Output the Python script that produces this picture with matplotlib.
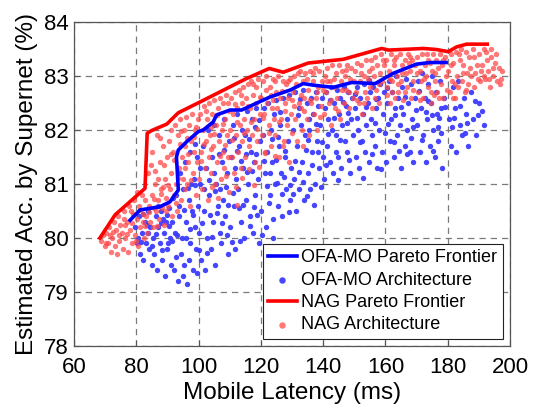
import matplotlib
matplotlib.use('Agg')
import matplotlib.pyplot as plt
import numpy as np

plt.rcParams['font.family'] = ['Liberation Sans', 'DejaVu Sans']

# Pareto frontiers (latency ms, accuracy %)
ofa_front_x = [78.0, 81.2, 87.6, 90.8, 93.5, 92.9, 93.5, 96.1, 99.9, 101.5, 104.7, 105.8, 110.1, 113.8,
               122.9, 129.4, 133.6, 136.9, 143.3, 149.2, 156.7, 162.5, 170.0, 174.3, 179.5]
ofa_front_y = [80.33, 80.52, 80.58, 80.67, 80.89, 81.50, 81.63, 81.78, 81.97, 82.00, 82.15, 82.28, 82.37, 82.37,
               82.61, 82.74, 82.86, 82.83, 82.79, 82.88, 82.86, 83.05, 83.22, 83.25, 83.25]

nag_front_x = [68.3, 73.2, 82.8, 83.5, 84.9, 89.8, 93.5, 100.5, 114.9, 122.7, 127.2, 135.2, 146.5,
               158.8, 161.0, 172.2, 176.5, 180.2, 182.9, 186.1, 192.7]
nag_front_y = [80.00, 80.43, 80.92, 81.94, 81.99, 82.11, 82.32, 82.52, 82.94, 83.14, 83.07, 83.24, 83.31,
               83.51, 83.48, 83.51, 83.49, 83.45, 83.54, 83.59, 83.59]

# sampled architectures (latency, accuracy)
ofa_arch = np.array([
    (79.5, 80.2), (80.1, 79.9), (80.8, 80.4), (81.2, 79.7), (81.9, 80.1), (82.3, 79.6), (82.7, 80.3), (83.1, 79.9),
    (83.6, 80.5), (84.0, 79.8), (84.4, 80.2), (84.9, 79.5), (80.6, 80.0), (82.0, 80.45), (83.9, 80.1),
    (85.3, 80.0), (85.8, 79.7), (86.2, 80.4), (86.6, 79.4), (87.1, 80.2), (87.5, 79.9), (88.0, 80.5), (88.3, 79.6),
    (88.8, 80.1), (89.2, 79.3), (89.6, 80.3), (90.0, 79.8), (90.4, 80.55), (90.8, 80.0), (91.2, 79.5), (91.6, 80.3),
    (86.9, 80.6), (88.6, 80.35), (90.2, 79.9), (91.9, 80.75),
    (92.2, 79.4), (92.5, 80.1), (92.9, 80.8), (93.3, 79.2), (93.6, 80.4), (94.0, 81.2), (94.3, 79.7), (94.7, 80.0),
    (95.0, 80.9), (95.4, 79.5), (95.7, 81.4), (96.1, 80.3), (96.4, 79.15), (96.8, 80.7), (97.1, 81.6), (97.4, 79.9),
    (97.8, 80.5), (98.1, 79.4), (98.5, 81.1), (98.8, 80.2), (99.2, 79.8), (99.5, 81.5), (99.8, 80.6), (93.8, 80.6),
    (95.9, 80.0), (97.6, 81.0), (94.9, 79.3), (96.9, 79.6), (98.9, 81.75), (99.6, 79.35),
    (100.2, 80.1), (100.6, 81.0), (100.9, 79.6), (101.3, 81.7), (101.7, 80.5), (102.0, 79.4), (102.4, 81.3),
    (102.8, 80.0), (103.1, 82.0), (103.5, 80.8), (103.9, 79.8), (104.2, 81.5), (104.6, 80.3), (105.0, 82.1),
    (105.3, 79.5), (105.7, 81.0), (106.1, 80.6), (106.4, 81.9), (106.8, 80.1), (107.2, 79.9), (107.5, 81.4),
    (107.9, 80.7), (108.3, 82.2), (108.6, 80.4), (109.0, 81.2), (109.4, 79.7), (109.7, 81.8), (101.9, 80.9),
    (104.8, 81.2), (107.0, 80.9),
    (110.2, 80.2), (110.5, 81.5), (110.9, 82.1), (111.3, 80.6), (111.6, 79.8), (112.0, 81.1), (112.4, 82.3),
    (112.7, 80.9), (113.1, 81.7), (113.5, 80.3), (113.8, 82.0), (114.2, 81.3), (114.6, 80.0), (114.9, 81.9),
    (115.3, 80.7), (115.7, 82.35), (116.0, 81.0), (116.4, 80.4), (116.8, 81.6), (117.1, 82.2), (117.5, 80.1),
    (117.9, 81.4), (118.2, 80.8), (118.6, 82.4), (119.0, 81.1), (119.3, 79.9), (119.7, 81.8), (111.8, 81.3),
    (115.1, 81.55), (118.0, 82.05),
    (120.2, 80.5), (120.6, 81.9), (120.9, 82.4), (121.3, 81.2), (121.7, 80.2), (122.0, 81.6), (122.4, 82.5),
    (122.8, 80.8), (123.2, 82.0), (123.5, 81.4), (123.9, 80.0), (124.3, 82.3), (124.6, 81.0), (125.0, 82.55),
    (125.4, 80.6), (125.8, 81.7), (126.1, 82.1), (126.5, 81.2), (126.9, 80.4), (127.2, 82.6), (127.6, 81.5),
    (128.0, 80.9), (128.3, 82.2), (128.7, 81.8), (129.1, 82.65), (129.5, 80.7), (129.8, 81.3), (124.8, 81.45),
    (130.2, 82.0), (130.6, 81.1), (130.9, 82.7), (131.3, 80.5), (131.7, 81.7), (132.1, 82.4), (132.4, 80.9),
    (132.8, 82.1), (133.2, 81.4), (133.6, 82.75), (133.9, 80.7), (134.3, 81.9), (134.7, 82.5), (135.0, 81.2),
    (135.4, 82.2), (135.8, 80.9), (136.1, 82.6), (136.5, 81.6), (136.9, 82.3), (137.3, 81.0), (137.6, 82.7),
    (138.0, 81.8), (138.4, 82.45), (138.8, 81.3), (139.1, 82.1), (139.5, 82.6), (139.8, 81.5), (135.6, 82.0),
    (140.2, 81.1), (140.6, 82.4), (141.0, 82.7), (141.3, 81.7), (141.7, 82.2), (142.1, 81.4), (142.5, 82.8),
    (142.8, 82.0), (143.2, 81.2), (143.6, 82.5), (144.0, 81.9), (144.3, 82.75), (144.7, 81.5), (145.1, 82.3),
    (145.5, 82.6), (145.8, 81.3), (146.2, 82.1), (146.6, 82.8), (147.0, 81.8), (147.3, 82.45), (147.7, 81.6),
    (148.1, 82.7), (148.5, 81.2), (148.8, 82.2), (149.2, 82.6), (149.6, 81.9),
    (150.1, 82.4), (150.5, 81.5), (150.9, 82.8), (151.2, 82.0), (151.6, 81.3), (152.0, 82.6), (152.4, 81.8),
    (152.8, 82.3), (153.1, 82.85), (153.5, 81.6), (153.9, 82.1), (154.3, 82.5), (154.6, 81.4), (155.0, 82.7),
    (155.4, 82.2), (155.8, 81.9), (156.1, 82.8), (156.5, 81.7), (156.9, 82.4), (157.3, 81.3), (157.6, 82.6),
    (158.0, 82.0), (158.4, 82.85), (158.8, 81.6), (159.2, 82.3), (159.6, 82.7),
    (160.2, 81.4), (160.6, 82.5), (161.0, 82.9), (161.4, 81.8), (161.8, 82.2), (162.2, 82.7), (162.6, 81.5),
    (163.0, 82.4), (163.4, 83.0), (163.8, 81.9), (164.2, 82.6), (164.6, 82.1), (165.0, 81.3), (165.4, 82.8),
    (165.8, 82.3), (166.2, 81.7), (166.6, 82.95), (167.0, 82.0), (167.4, 82.5), (167.8, 81.6), (168.2, 82.85),
    (168.6, 82.2), (169.0, 81.4), (169.4, 82.6),
    (170.2, 82.1), (170.6, 82.9), (171.0, 81.6), (171.4, 82.4), (171.8, 83.05), (172.2, 81.9), (172.6, 82.6),
    (173.0, 81.4), (173.4, 82.2), (173.8, 82.85), (174.2, 81.7), (174.6, 82.5), (175.0, 83.0), (175.4, 82.0),
    (175.8, 81.5), (176.2, 82.7), (176.6, 82.3), (177.0, 81.8), (177.4, 82.9), (177.8, 82.4), (178.3, 81.3),
    (178.8, 82.6),
    (180.4, 82.2), (181.0, 81.7), (181.6, 82.8), (182.2, 82.4), (182.8, 81.6), (183.4, 82.9), (184.0, 82.1),
    (184.6, 81.9), (185.2, 82.6), (185.8, 82.3), (186.6, 81.7), (187.4, 82.7), (188.2, 82.2), (189.0, 81.9),
    (190.2, 82.5), (191.5, 82.1),
    # extra, less regular samples
    (96.7, 80.93), (101.2, 80.27), (103.3, 81.08), (105.9, 80.47), (108.1, 81.63), (109.1, 80.05), (111.0, 80.83),
    (112.2, 81.62), (113.3, 79.95), (114.4, 80.62), (116.3, 81.83), (117.3, 81.24), (118.8, 80.43), (121.0, 81.43),
    (122.6, 80.65), (123.7, 81.83), (125.1, 81.02), (126.3, 82.33), (127.9, 81.62), (129.3, 80.98), (131.0, 81.42),
    (132.6, 82.57), (133.4, 81.03), (134.9, 80.78), (136.3, 81.35), (137.8, 82.12), (139.3, 80.95), (141.6, 81.93),
    (143.4, 82.22), (144.9, 81.08), (146.4, 82.52), (148.3, 81.45), (151.0, 82.22), (152.9, 81.12), (154.8, 82.93),
    (156.7, 82.13), (158.6, 81.28), (160.9, 82.12), (162.8, 81.78), (164.9, 82.42), (166.9, 81.55), (168.9, 82.05),
    (170.9, 82.73), (172.9, 82.33), (175.2, 81.62), (176.9, 82.05), (179.1, 82.43), (181.3, 82.05), (183.9, 82.45),
    (186.1, 82.13), (188.8, 82.53), (191.0, 82.35),
    (98.3, 80.43), (100.4, 81.3), (102.6, 79.72), (104.4, 80.02), (106.6, 81.56), (108.8, 80.95), (110.7, 79.92),
    (112.9, 80.55), (115.4, 81.22), (117.7, 80.58), (119.5, 82.18), (121.9, 80.97), (124.0, 80.35), (126.7, 80.82),
    (128.9, 80.48), (131.9, 82.27), (134.5, 81.63), (137.0, 80.62), (139.7, 81.78), (142.3, 82.55), (145.3, 81.82),
    (147.6, 82.13), (150.3, 82.67), (153.7, 82.43), (157.0, 82.57), (160.4, 82.78), (163.2, 82.27), (166.4, 82.62),
    (169.7, 82.38), (173.6, 82.53), (177.2, 82.22),
    (93.1, 80.05), (95.2, 80.52), (97.3, 80.17), (99.0, 80.98), (100.1, 79.78), (103.7, 80.42), (105.2, 80.88),
    (107.6, 80.27), (109.6, 80.62), (111.5, 81.85), (113.6, 81.42), (116.6, 80.22), (118.4, 81.56), (120.4, 80.05),
    (123.0, 81.2), (125.6, 81.88), (127.4, 81.13), (130.4, 80.82), (132.3, 81.23), (135.2, 81.82), (138.2, 81.6),
    (140.9, 81.35), (144.1, 81.6), (147.9, 82.32), (151.8, 81.78), (155.6, 81.55), (159.9, 81.95), (164.4, 81.62),
    (168.3, 81.85), (171.6, 81.82), (174.9, 82.28), (178.0, 81.95), (182.0, 82.23), (185.6, 81.95), (189.7, 82.27),
    (86.4, 80.08), (88.1, 79.78), (89.9, 80.42), (91.4, 79.95), (83.3, 80.25), (81.6, 79.92), (85.0, 79.85),
    (87.8, 80.28), (90.6, 80.22), (92.7, 79.65),
])

nag_arch = np.array([
    (68.8, 79.95), (69.4, 80.05), (69.9, 79.85), (70.4, 80.1), (70.9, 79.9), (71.3, 80.2), (71.8, 79.75),
    (72.2, 80.0), (72.7, 80.3), (73.1, 79.85), (73.6, 80.15), (74.0, 80.4), (74.5, 79.95), (74.9, 80.25),
    (71.6, 80.05), (73.9, 79.7),
    (75.3, 80.1), (75.7, 79.8), (76.1, 80.5), (76.5, 80.0), (76.9, 80.3), (77.3, 79.75), (77.7, 80.6),
    (78.1, 80.15), (78.5, 79.9), (78.9, 80.45), (79.3, 80.7), (79.7, 80.05), (80.1, 80.35), (80.5, 79.85),
    (80.9, 80.6), (81.3, 80.2), (81.7, 80.8), (82.1, 80.45), (82.5, 80.0), (82.9, 80.7), (76.3, 80.25),
    (78.4, 80.5), (80.3, 80.85), (82.2, 80.3),
    (83.2, 80.4), (83.5, 80.1), (83.9, 81.2), (84.2, 80.6), (84.5, 80.3), (84.9, 81.6), (85.2, 80.8),
    (85.5, 80.2), (85.9, 81.0), (86.2, 80.5), (86.5, 81.9), (86.9, 80.7), (87.2, 80.35), (87.5, 81.4),
    (87.9, 80.9), (88.2, 80.55), (88.5, 81.7), (88.9, 80.25), (89.2, 81.1), (89.5, 80.75), (89.8, 81.5),
    (84.6, 81.35), (86.0, 81.25), (87.7, 81.85), (88.7, 80.95), (89.4, 80.5), (85.6, 80.55), (87.0, 81.1),
    (90.1, 80.6), (90.4, 81.8), (90.7, 80.9), (91.0, 82.0), (91.3, 81.2), (91.6, 80.4), (91.9, 81.6),
    (92.2, 80.8), (92.5, 82.1), (92.8, 81.0), (93.1, 80.5), (93.4, 81.9), (93.7, 81.3), (94.0, 82.2),
    (94.3, 80.7), (94.6, 81.5), (94.9, 81.1), (95.2, 82.0), (95.5, 80.9), (95.8, 81.7), (96.1, 82.25),
    (96.4, 81.0), (96.7, 81.4), (97.0, 82.1), (97.3, 80.6), (97.6, 81.8), (97.9, 82.3), (98.2, 81.2),
    (98.5, 81.6), (98.8, 82.0), (99.1, 80.8), (99.4, 81.4), (99.7, 82.2), (92.0, 81.45), (94.1, 81.75),
    (96.3, 81.85),
    (100.2, 81.1), (100.5, 82.3), (100.8, 81.6), (101.1, 80.9), (101.4, 82.0), (101.7, 82.45), (102.0, 81.3),
    (102.3, 81.8), (102.6, 82.2), (102.9, 80.7), (103.2, 81.5), (103.5, 82.5), (103.8, 81.9), (104.1, 81.2),
    (104.4, 82.3), (104.7, 81.7), (105.0, 82.55), (105.3, 81.0), (105.6, 82.1), (105.9, 81.4), (106.2, 82.4),
    (106.5, 81.8), (106.8, 82.6), (107.1, 81.1), (107.4, 82.0), (107.7, 81.6), (108.0, 82.5), (108.3, 81.3),
    (108.6, 82.2), (108.9, 82.65), (109.2, 81.9), (109.5, 81.5), (109.8, 82.35), (104.0, 82.05),
    (110.2, 82.0), (110.5, 82.6), (110.8, 81.5), (111.1, 82.3), (111.4, 81.2), (111.7, 82.7), (112.0, 81.9),
    (112.3, 82.4), (112.6, 81.6), (112.9, 82.75), (113.2, 82.1), (113.5, 81.3), (113.8, 82.5), (114.1, 81.8),
    (114.4, 82.8), (114.7, 82.2), (115.0, 81.5), (115.3, 82.6), (115.6, 82.0), (115.9, 82.85), (116.2, 81.7),
    (116.5, 82.4), (116.8, 82.9), (117.1, 81.9), (117.4, 82.65), (117.7, 82.2), (118.0, 81.4), (118.3, 82.8),
    (118.6, 82.5), (118.9, 81.8), (119.2, 82.95), (119.6, 82.3),
    (120.1, 82.6), (120.4, 81.9), (120.8, 82.9), (121.1, 82.3), (121.4, 81.6), (121.8, 83.0), (122.1, 82.5),
    (122.5, 82.1), (122.8, 82.8), (123.1, 81.7), (123.5, 82.4), (123.8, 82.95), (124.2, 82.2), (124.5, 81.9),
    (124.9, 82.7), (125.2, 82.4), (125.6, 83.0), (125.9, 81.5), (126.3, 82.6), (126.6, 82.2), (127.0, 82.9),
    (127.3, 81.8), (127.7, 82.5), (128.0, 82.85), (128.4, 82.1), (128.7, 82.6), (129.1, 81.4), (129.4, 82.95),
    (129.8, 82.3), (123.3, 82.65),
    (130.2, 82.7), (130.6, 83.0), (130.9, 82.2), (131.3, 82.85), (131.7, 81.8), (132.1, 82.5), (132.5, 83.1),
    (132.8, 82.4), (133.2, 82.0), (133.6, 82.9), (134.0, 82.6), (134.3, 83.05), (134.7, 82.2), (135.1, 82.75),
    (135.5, 81.9), (135.8, 83.1), (136.2, 82.5), (136.6, 82.9), (137.0, 82.3), (137.3, 83.15), (137.7, 82.6),
    (138.1, 82.0), (138.5, 82.8), (138.8, 83.1), (139.2, 82.45), (139.6, 82.9),
    (140.2, 82.3), (140.6, 83.0), (141.0, 82.7), (141.4, 83.15), (141.8, 82.5), (142.2, 82.9), (142.6, 82.1),
    (143.0, 83.2), (143.4, 82.8), (143.8, 82.4), (144.2, 83.05), (144.6, 82.6), (145.0, 83.2), (145.4, 82.2),
    (145.8, 82.9), (146.2, 83.1), (146.6, 82.5), (147.0, 83.0), (147.4, 82.75), (147.8, 83.2), (148.2, 82.4),
    (148.6, 82.95), (149.0, 83.15), (149.5, 82.6),
    (150.2, 83.1), (150.6, 82.7), (151.0, 83.25), (151.4, 82.5), (151.8, 82.9), (152.2, 83.2), (152.6, 82.3),
    (153.0, 83.0), (153.4, 82.7), (153.8, 83.3), (154.2, 82.6), (154.6, 83.1), (155.0, 82.8), (155.4, 83.3),
    (155.8, 82.4), (156.2, 83.0), (156.6, 83.35), (157.0, 82.75), (157.4, 83.2), (157.8, 82.5), (158.2, 83.05),
    (158.6, 83.4), (159.0, 82.9), (159.5, 83.2),
    (160.2, 83.3), (160.6, 82.8), (161.0, 83.1), (161.4, 82.5), (161.8, 83.4), (162.2, 82.9), (162.6, 83.2),
    (163.0, 82.6), (163.4, 83.35), (163.8, 83.0), (164.2, 82.7), (164.6, 83.4), (165.0, 82.9), (165.4, 83.2),
    (165.8, 82.55), (166.2, 83.3), (166.6, 83.05), (167.0, 82.8), (167.4, 83.4), (167.8, 83.1), (168.2, 82.6),
    (168.6, 83.3), (169.0, 82.9), (169.5, 83.2),
    (170.2, 83.35), (170.6, 82.7), (171.0, 83.1), (171.4, 82.9), (171.8, 83.4), (172.2, 82.6), (172.6, 83.2),
    (173.0, 83.0), (173.4, 83.4), (173.8, 82.8), (174.2, 83.25), (174.6, 82.5), (175.0, 83.1), (175.4, 83.4),
    (175.8, 82.9), (176.2, 83.3), (176.6, 82.7), (177.0, 83.15), (177.4, 83.4), (177.8, 82.85), (178.2, 83.2),
    (178.6, 82.6), (179.0, 83.35), (179.5, 83.0),
    (180.2, 83.1), (180.6, 82.7), (181.0, 83.4), (181.4, 82.9), (181.8, 83.25), (182.2, 82.6), (182.6, 83.45),
    (183.0, 83.0), (183.4, 82.8), (183.8, 83.3), (184.2, 83.5), (184.6, 82.9), (185.0, 83.2), (185.4, 82.7),
    (185.8, 83.45), (186.2, 83.05), (186.6, 82.85), (187.0, 83.35), (187.5, 83.0), (188.0, 83.5), (188.6, 82.8),
    (189.3, 83.2),
    (190.0, 83.4), (190.5, 82.9), (191.0, 83.2), (191.5, 83.5), (192.0, 82.95), (192.5, 83.3), (193.0, 83.1),
    (193.5, 82.8), (194.0, 83.35), (194.6, 83.0), (195.2, 83.25), (195.8, 82.9), (196.4, 83.15), (197.0, 82.95),
    (193.8, 83.5), (191.7, 83.0),
    # extra, less regular samples
    (70.2, 79.9), (72.5, 80.12), (74.3, 80.05), (75.9, 80.35), (77.1, 80.08), (78.7, 80.28), (79.9, 79.95),
    (81.1, 80.52), (82.7, 80.22), (84.1, 80.48), (85.8, 80.72), (86.8, 80.22), (88.0, 80.82), (89.0, 81.35),
    (90.3, 80.98), (91.2, 81.55), (92.6, 80.65), (93.5, 81.12), (94.5, 81.98), (95.6, 81.3), (96.6, 81.56),
    (97.7, 81.08), (98.4, 81.88), (99.3, 82.05), (100.7, 81.42), (101.6, 81.75), (102.5, 82.35), (103.9, 81.65),
    (104.9, 81.92), (105.8, 82.28), (106.9, 81.52), (107.9, 82.12), (108.4, 81.72), (109.4, 82.5), (110.6, 81.82),
    (111.6, 82.48), (112.5, 82.15), (113.7, 82.65), (114.6, 81.95), (115.8, 82.45), (116.7, 82.15), (117.6, 82.85),
    (118.7, 82.02), (119.8, 82.62), (120.6, 82.22), (121.6, 82.75), (122.7, 81.95), (123.9, 82.55), (124.7, 82.9),
    (125.8, 82.15), (126.8, 82.72), (127.8, 82.35), (128.8, 82.9), (129.9, 82.55), (130.8, 82.45), (131.9, 83.05),
    (132.9, 82.65), (133.9, 82.35), (134.9, 82.95), (135.9, 82.55), (136.9, 83.05), (137.9, 82.7), (138.9, 82.25),
    (139.9, 82.75), (141.1, 82.9), (142.4, 82.55), (143.6, 82.95), (144.8, 82.35), (146.0, 82.75), (147.2, 83.12),
    (148.4, 82.7), (149.8, 82.9), (150.8, 82.55), (152.1, 83.05), (153.2, 82.5), (154.4, 82.95), (155.6, 83.15),
    (156.8, 82.6), (158.0, 82.85), (159.3, 83.3), (160.4, 82.65), (161.6, 82.95), (162.9, 83.3), (164.0, 82.85),
    (165.2, 83.05), (166.4, 82.7), (167.6, 83.25), (168.8, 82.75), (170.0, 83.05), (171.2, 82.55), (172.4, 82.95),
    (173.6, 83.3), (174.8, 82.7), (176.0, 83.05), (177.2, 82.6), (178.4, 83.3), (179.8, 82.75), (181.2, 83.2),
    (182.4, 82.85), (183.6, 83.4), (184.8, 83.05), (186.0, 82.75), (187.2, 83.15), (188.4, 83.35), (189.6, 82.95),
    (190.8, 83.1), (192.2, 83.45), (193.3, 82.95), (194.4, 83.15), (195.5, 83.4), (196.7, 82.85), (197.3, 83.1),
    (162.0, 82.7), (168.0, 83.35), (175.6, 82.65), (181.6, 82.6), (188.9, 83.05),
    (104.3, 80.95), (106.3, 80.75), (108.7, 81.15), (111.9, 80.95), (113.9, 81.12), (116.1, 81.28), (119.4, 81.32),
    (121.2, 81.58), (124.4, 81.52), (127.1, 81.7), (130.1, 81.95), (133.4, 81.7), (112.2, 80.62), (109.9, 80.85),
    (117.9, 80.98),
])

fig = plt.figure(figsize=(5.34, 4.12), dpi=100)
ax = fig.add_axes([0.1386, 0.160, 0.8164, 0.7866])

# scatter clouds first, frontiers on top
s_ofa = ax.scatter(ofa_arch[:, 0], ofa_arch[:, 1], s=15, color='#3c3cff', alpha=0.95, linewidths=0, zorder=2)
s_nag = ax.scatter(nag_arch[:, 0], nag_arch[:, 1], s=15, color='#ff4a4a', alpha=0.75, linewidths=0, zorder=3)
l_ofa, = ax.plot(ofa_front_x, ofa_front_y, color='#0000ff', linewidth=2.6, zorder=4)
l_nag, = ax.plot(nag_front_x, nag_front_y, color='#ff0000', linewidth=2.6, zorder=5)

ax.set_xlim(60, 200)
ax.set_ylim(78, 84)
ax.set_xticks(np.arange(60, 201, 20))
ax.set_yticks(np.arange(78, 85, 1))

ax.grid(True, color='#7a7a7a', linestyle=(0, (5, 4)), linewidth=0.9)
ax.set_axisbelow(True)
for sp in ax.spines.values():
    sp.set_color('#555555')
    sp.set_linewidth(0.9)
ax.tick_params(direction='in', length=4, color='#555555', labelsize=16)
ax.tick_params(axis='x', pad=8)
ax.tick_params(axis='y', pad=4)

ax.set_xlabel('Mobile Latency (ms)', fontsize=17.5, labelpad=3)
ax.set_ylabel('Estimated Acc. by Supernet (%)', fontsize=17.5, labelpad=4)

leg = ax.legend([l_ofa, s_ofa, l_nag, s_nag],
                ['OFA-MO Pareto Frontier', 'OFA-MO Architecture', 'NAG Pareto Frontier', 'NAG Architecture'],
                loc='lower right', fontsize=13, frameon=True, fancybox=False, framealpha=1,
                edgecolor='#222222', handlelength=1.6, handletextpad=0.25, borderpad=0.3,
                labelspacing=0.3, markerscale=1.2, borderaxespad=0.4)
leg.get_frame().set_linewidth(0.8)

plt.savefig('out.png', dpi=100)
